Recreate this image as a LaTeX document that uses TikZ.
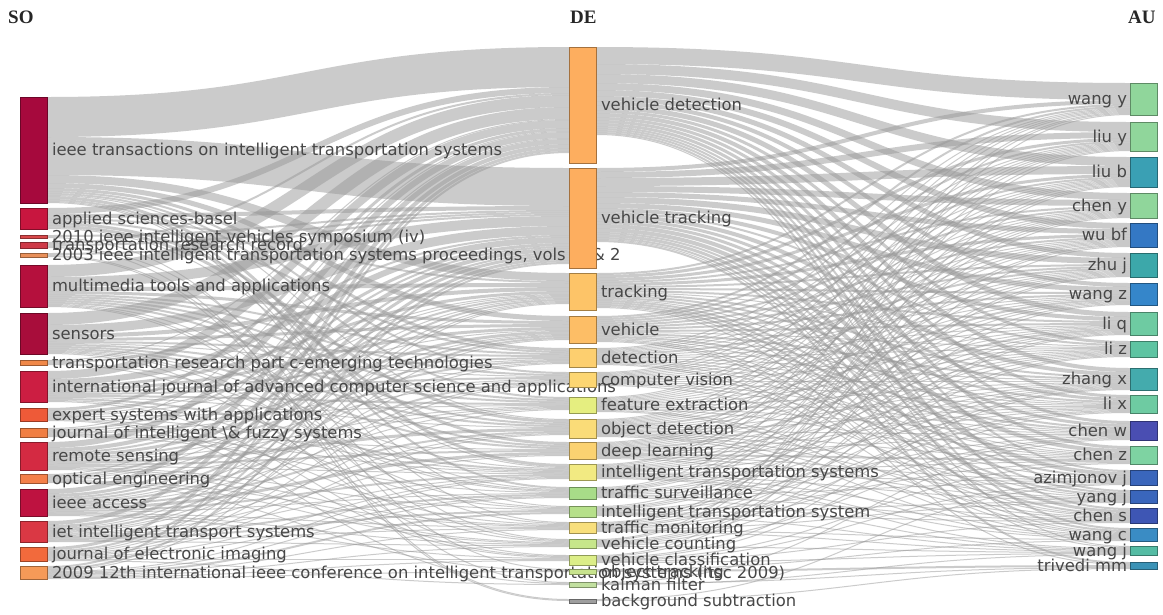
\documentclass[tikz,border=0pt]{standalone}
\usepackage{fontspec}
\newfontfamily\lblfont{DejaVu Sans}
\newfontfamily\hdfont{Liberation Serif}
\usetikzlibrary{calc}
\pgfdeclarelayer{bg}
\pgfsetlayers{bg,main}
% SO colours
\definecolor{cIeeeT}{HTML}{A6093D}
\definecolor{cAppl}{HTML}{C8163F}
\definecolor{cIv}{HTML}{D8484A}
\definecolor{cTrr}{HTML}{CE3A48}
\definecolor{cIts03}{HTML}{E8905A}
\definecolor{cMm}{HTML}{B5103D}
\definecolor{cSens}{HTML}{A80D3B}
\definecolor{cTrc}{HTML}{F08848}
\definecolor{cIjacsa}{HTML}{CC1E42}
\definecolor{cEsa}{HTML}{EE5A38}
\definecolor{cJifs}{HTML}{F07E42}
\definecolor{cRs}{HTML}{D42A42}
\definecolor{cOe}{HTML}{F4804A}
\definecolor{cAccess}{HTML}{BE1240}
\definecolor{cIet}{HTML}{DA3844}
\definecolor{cJei}{HTML}{F26A3C}
\definecolor{cC09}{HTML}{F59A58}
% DE colours
\definecolor{cVdet}{HTML}{FDAE5F}
\definecolor{cTrk}{HTML}{FDC468}
\definecolor{cVeh}{HTML}{FDBE66}
\definecolor{cDet}{HTML}{FDCF6F}
\definecolor{cCv}{HTML}{FDD672}
\definecolor{cFe}{HTML}{E5EE80}
\definecolor{cOd}{HTML}{FADC78}
\definecolor{cDl}{HTML}{FBD271}
\definecolor{cIts}{HTML}{F2EA82}
\definecolor{cTs}{HTML}{A8DC88}
\definecolor{cItsy}{HTML}{B6E08A}
\definecolor{cTm}{HTML}{F8DF7C}
\definecolor{cVc}{HTML}{C6E68A}
\definecolor{cVcl}{HTML}{DCEE88}
\definecolor{cOt}{HTML}{C8E48E}
\definecolor{cKf}{HTML}{C2E0A0}
\definecolor{cBs}{HTML}{9E9E9E}
% AU colours
\definecolor{cLg}{HTML}{90D69B}
\definecolor{cTeal}{HTML}{3AA0B4}
\definecolor{cBlue}{HTML}{3478C4}
\definecolor{cTeal2}{HTML}{3CA8AA}
\definecolor{cBlue2}{HTML}{3586CA}
\definecolor{cMint}{HTML}{6ECBA2}
\definecolor{cMint2}{HTML}{5EC4A2}
\definecolor{cTeal3}{HTML}{44ABAD}
\definecolor{cIndigo}{HTML}{4A4EB2}
\definecolor{cMint3}{HTML}{7ED3A2}
\definecolor{cRoyal}{HTML}{3A66BC}
\definecolor{cRoyal2}{HTML}{3E56B4}
\definecolor{cBlue3}{HTML}{3A8CC4}
\definecolor{cMint4}{HTML}{55BCA4}
\definecolor{cTeal4}{HTML}{3A92B6}

\tikzset{
  box/.style={rectangle, inner sep=0pt, outer sep=0pt, minimum width=27pt, line width=0.7pt},
  lbl/.style={font=\lblfont\fontsize{16.4}{18}\selectfont, text=black!72, inner sep=0pt, outer sep=0pt, text height=11.8pt, text depth=3.4pt, yshift=-1.5pt},
  hdr/.style={font=\hdfont\bfseries\fontsize{19}{22}\selectfont, text=black!85, inner sep=0pt},
  flow/.style={draw=black!40, draw opacity=0.5}
}

\newcommand\initn[1]{\expandafter\xdef\csname oo@#1\endcsname{0}\expandafter\xdef\csname oi@#1\endcsname{0}}
% SO node: name, ytop, height, colour, label
\newcommand\snode[5]{\initn{#1}%
  \node[box, fill=#4, draw=#4!65!black, minimum height=#3pt, anchor=north west] (#1) at (20,#2) {};
  \node[lbl, anchor=west, xshift=5pt] (#1-l) at (#1.east) {#5};}
\newcommand\dnode[5]{\initn{#1}%
  \node[box, fill=#4, draw=#4!65!black, minimum height=#3pt, anchor=north west] (#1) at (569,#2) {};
  \node[lbl, anchor=west, xshift=5pt] (#1-l) at (#1.east) {#5};}
\newcommand\anode[5]{\initn{#1}%
  \node[box, fill=#4, draw=#4!65!black, minimum height=#3pt, anchor=north west] (#1) at (1130,#2) {};
  \node[lbl, anchor=east, xshift=-3pt] (#1-l) at (#1.west) {#5};}

\newcommand\lnk[3]{%
  \edef\lkS{#1}\edef\lkD{#2}%
  \edef\lkSo{\csname oo@\lkS\endcsname}\edef\lkSi{\csname oi@\lkD\endcsname}%
  \draw[flow, line width=#3pt] let \p1=($(\lkS.north east)+(0,\lkSo+#3/2)$),
      \p2=($(\lkD.north west)+(0,\lkSi+#3/2)$), \p3=($(\p1)!0.5!(\p2)$) in
      (\p1) .. controls (\x3,\y1) and (\x3,\y2) .. (\p2);
  \pgfmathsetmacro\lkTa{\lkSo+#3}\expandafter\xdef\csname oo@\lkS\endcsname{\lkTa}%
  \pgfmathsetmacro\lkTb{\lkSi+#3}\expandafter\xdef\csname oi@\lkD\endcsname{\lkTb}%
}
\newcommand\lnks[2]{\foreach \lkd/\lkw in {#2}{\lnk{#1}{\lkd}{\lkw}}}

\begin{document}
\begin{tikzpicture}[x=1pt,y=-1pt]
\useasboundingbox (0,0) rectangle (1163,614);
\begin{pgfonlayer}{bg}
\fill[white] (0,0) rectangle (1163,614);
\end{pgfonlayer}

\node[hdr, anchor=base west] (hSO) at (8,23) {SO};
\node[hdr, anchor=base west] (hDE) at (570,23) {DE};
\node[hdr, anchor=base west] (hAU) at (1128,23) {AU};

% SO column
\snode{ieeeT}{97}{106}{cIeeeT}{ieee transactions on intelligent transportation systems}
\snode{appl}{208}{21}{cAppl}{applied sciences-basel}
\snode{iv2010}{235}{3}{cIv}{2010 ieee intelligent vehicles symposium (iv)}
\snode{trr}{242}{6}{cTrr}{transportation research record}
\snode{its2003}{253}{4}{cIts03}{2003 ieee intelligent transportation systems proceedings, vols 1 \textbackslash\& 2}
\snode{mm}{265}{42}{cMm}{multimedia tools and applications}
\snode{sens}{313}{41}{cSens}{sensors}
\snode{trc}{360}{5}{cTrc}{transportation research part c-emerging technologies}
\snode{ijacsa}{371}{31}{cIjacsa}{international journal of advanced computer science and applications}
\snode{esa}{408}{13}{cEsa}{expert systems with applications}
\snode{jifs}{428}{9}{cJifs}{journal of intelligent \textbackslash\& fuzzy systems}
\snode{rs}{442}{28}{cRs}{remote sensing}
\snode{oe}{474}{9}{cOe}{optical engineering}
\snode{access}{489}{27}{cAccess}{ieee access}
\snode{iet}{521}{21}{cIet}{iet intelligent transport systems}
\snode{jei}{547}{14}{cJei}{journal of electronic imaging}
\snode{c2009}{566}{13}{cC09}{2009 12th international ieee conference on intelligent transportation systems (itsc 2009)}

% DE column
\dnode{vdet}{47}{116}{cVdet}{vehicle detection}
\dnode{vtrk}{168}{100}{cVdet}{vehicle tracking}
\dnode{trk}{273}{37}{cTrk}{tracking}
\dnode{veh}{316}{27}{cVeh}{vehicle}
\dnode{det}{348}{19}{cDet}{detection}
\dnode{cv}{372}{15}{cCv}{computer vision}
\dnode{fe}{397}{16}{cFe}{feature extraction}
\dnode{od}{419}{19}{cOd}{object detection}
\dnode{dl}{442}{17}{cDl}{deep learning}
\dnode{its}{464}{16}{cIts}{intelligent transportation systems}
\dnode{ts}{487}{12}{cTs}{traffic surveillance}
\dnode{itsy}{506}{11}{cItsy}{intelligent transportation system}
\dnode{tm}{522}{11}{cTm}{traffic monitoring}
\dnode{vc}{539}{9}{cVc}{vehicle counting}
\dnode{vcl}{555}{10}{cVcl}{vehicle classification}
\dnode{ot}{569}{5}{cOt}{object tracking}
\dnode{kf}{582}{5}{cKf}{kalman filter}
\dnode{bs}{599}{4}{cBs}{background subtraction}

% AU column
\anode{wangy}{83}{32}{cLg}{wang y}
\anode{liuy}{122}{29}{cLg}{liu y}
\anode{liub}{157}{30}{cTeal}{liu b}
\anode{cheny}{193}{25}{cLg}{chen y}
\anode{wubf}{223}{24}{cBlue}{wu bf}
\anode{zhuj}{253}{24}{cTeal2}{zhu j}
\anode{wangz}{283}{22}{cBlue2}{wang z}
\anode{liq}{312}{23}{cMint}{li q}
\anode{liz}{341}{16}{cMint2}{li z}
\anode{zhangx}{368}{22}{cTeal3}{zhang x}
\anode{lix}{395}{18}{cMint}{li x}
\anode{chenw}{421}{19}{cIndigo}{chen w}
\anode{chenz}{446}{18}{cMint3}{chen z}
\anode{azim}{470}{15}{cRoyal}{azimjonov j}
\anode{yangj}{490}{13}{cRoyal}{yang j}
\anode{chens}{508}{15}{cRoyal2}{chen s}
\anode{wangc}{528}{13}{cBlue3}{wang c}
\anode{wangj}{546}{9}{cMint4}{wang j}
\anode{trivedi}{562}{7}{cTeal4}{trivedi mm}

\begin{pgfonlayer}{bg}
% SO -> DE flows
\lnks{ieeeT}{vdet/40,vtrk/38,trk/8,veh/5,det/3,cv/2,fe/2,od/1,its/3,ts/2,itsy/1,tm/1}
\lnks{appl}{vdet/6,vtrk/4,trk/2,det/2,od/3,dl/3,its/1}
\lnks{iv2010}{vtrk/2,ot/1}
\lnks{trr}{vdet/2,vtrk/2,vc/1,bs/1}
\lnks{its2003}{vtrk/2,kf/1,bs/1}
\lnks{mm}{vdet/12,vtrk/10,trk/4,veh/3,det/2,cv/2,fe/2,od/2,dl/2,ts/1,tm/1,vc/1}
\lnks{sens}{vdet/12,vtrk/9,trk/4,veh/3,det/2,cv/1,fe/2,od/2,dl/2,its/1,ts/1,itsy/1,vcl/1}
\lnks{trc}{vdet/1,vtrk/2,ts/1,vc/1}
\lnks{ijacsa}{vdet/8,vtrk/6,trk/3,veh/3,det/2,cv/2,fe/2,od/1,its/2,itsy/1,vcl/1}
\lnks{esa}{vdet/3,vtrk/3,trk/1,veh/1,fe/1,its/1,tm/1,vcl/1,kf/1}
\lnks{jifs}{vdet/1,vtrk/2,trk/1,det/1,cv/1,dl/1,its/1,ts/1}
\lnks{rs}{vdet/6,vtrk/4,trk/2,veh/3,det/2,cv/1,fe/1,od/3,dl/2,its/1,itsy/1,tm/1,vc/1}
\lnks{oe}{vdet/1,vtrk/2,trk/1,veh/1,fe/1,tm/1,vc/1,ot/1}
\lnks{access}{vdet/5,vtrk/3,trk/2,veh/2,det/1,cv/2,fe/1,od/2,dl/3,its/2,ts/1,tm/1,vc/1,vcl/1}
\lnks{iet}{vdet/4,vtrk/3,trk/1,veh/2,det/1,cv/1,od/1,dl/1,its/1,ts/2,itsy/2,tm/1,vc/1}
\lnks{jei}{vdet/3,vtrk/2,trk/1,veh/1,cv/1,fe/1,od/1,its/1,ts/1,vcl/1,kf/1}
\lnks{c2009}{vdet/2,vtrk/2,trk/1,its/1,ts/1,itsy/2,tm/1,vc/1,vcl/1,ot/1}

% DE -> AU flows
\lnks{vdet}{wangy/17,liuy/10,liub/9,cheny/7,wubf/6,zhuj/5,wangz/4,liq/5,liz/3,zhangx/4,lix/3,chenw/3,chenz/3,azim/2,yangj/2,chens/2,wangc/2,wangj/1}
\lnks{vtrk}{wangy/4,liuy/6,liub/8,cheny/6,wubf/5,zhuj/6,wangz/5,liq/4,liz/2,zhangx/4,lix/3,chenw/3,chenz/4,azim/4,yangj/2,chens/3,wangc/2,wangj/1,trivedi/2}
\lnks{trk}{wangy/2,liuy/3,liub/3,cheny/2,wubf/3,zhuj/2,wangz/2,liq/2,liz/1,zhangx/2,lix/2,chenw/2,chenz/1,azim/2,yangj/2,chens/2,wangc/1,trivedi/1}
\lnks{veh}{wangy/2,liuy/2,liub/2,cheny/2,wubf/2,zhuj/2,wangz/2,liq/2,liz/1,zhangx/2,lix/1,chenw/2,chenz/1,yangj/1,chens/1,wangc/1}
\lnks{det}{wangy/1,liuy/1,liub/1,cheny/1,wubf/1,zhuj/2,wangz/1,liq/1,liz/1,zhangx/1,lix/1,chenw/1,chenz/1,azim/1,chens/1,wangc/1}
\lnks{cv}{wangy/1,liuy/1,liub/1,cheny/1,wubf/1,zhuj/1,wangz/1,liq/1,liz/1,zhangx/1,lix/1,chenw/1,chenz/1,yangj/1}
\lnks{fe}{wangy/1,liuy/1,liub/1,cheny/1,wubf/1,zhuj/1,wangz/1,liq/1,liz/1,zhangx/1,lix/1,chenw/1,chenz/1,chens/1,wangc/1}
\lnks{od}{wangy/1,liuy/1,liub/1,cheny/1,wubf/1,zhuj/1,wangz/2,liq/1,liz/1,zhangx/1,lix/1,chenw/1,chenz/1,azim/1,yangj/1,chens/1,wangc/1}
\lnks{dl}{liuy/1,liub/1,cheny/1,wubf/1,zhuj/1,wangz/1,liq/2,liz/1,zhangx/1,lix/1,chenw/1,chenz/2,azim/1,yangj/1,wangc/1}
\lnks{its}{wangy/1,liuy/1,cheny/1,zhuj/1,wangz/1,liq/1,liz/1,zhangx/1,lix/1,chenz/1,azim/1,yangj/1,chens/1,wangc/1,wangj/1}
\lnks{ts}{wangy/1,liub/1,cheny/1,wubf/1,liq/1,liz/1,zhangx/1,chenw/1,azim/1,chens/1,wangj/1}
\lnks{itsy}{liuy/1,wubf/1,zhuj/1,wangz/1,zhangx/1,lix/1,chenz/1,yangj/1,chens/1,wangj/1}
\lnks{tm}{liub/1,cheny/1,zhuj/1,liq/1,liz/1,lix/1,chenw/1,yangj/1,wangc/1,wangj/1}
\lnks{vc}{wangy/1,liuy/1,wangz/1,liq/1,liz/1,zhangx/1,chenw/1,wangj/1}
\lnks{vcl}{liub/1,wubf/1,zhangx/1,lix/1,chenz/1,azim/1,chens/1,wangj/1}
\lnks{ot}{wangc/1,trivedi/2}
\lnks{kf}{chenw/1,trivedi/1,wangj/1}
\lnks{bs}{azim/1,trivedi/1}
\end{pgfonlayer}
\end{tikzpicture}
\end{document}
